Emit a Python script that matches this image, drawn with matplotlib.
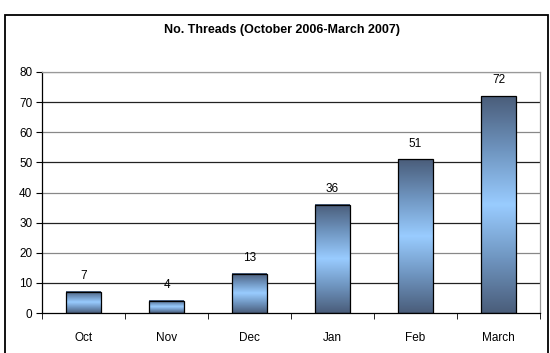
import numpy as np
import matplotlib.pyplot as plt
from matplotlib.colors import LinearSegmentedColormap
from matplotlib.patches import Rectangle

plt.rcParams['font.family'] = ['Liberation Sans', 'DejaVu Sans']

months = ['Oct', 'Nov', 'Dec', 'Jan', 'Feb', 'March']
threads = [7, 4, 13, 36, 51, 72]
yticks = [0, 10, 20, 30, 40, 50, 60, 70, 80]

# dark edge -> light centre -> dark edge, applied top to bottom of each bar
cmap = LinearSegmentedColormap.from_list(
    'bar', ['#4a5d7a', '#6f95c0', '#99ccff', '#6f95c0', '#4a5d7a'])

fig = plt.figure(figsize=(5.5, 3.53), dpi=100)
W, H = 550, 353

# outer chart frame, running off the bottom
fig.add_artist(Rectangle((5 / W, -0.05), 543 / W, (H - 15) / H + 0.05,
                         transform=fig.transFigure, fill=False,
                         edgecolor='black', linewidth=1.3))

ax = fig.add_axes([42 / W, (H - 313) / H, (540 - 42) / W, (313 - 72) / H])
ax.set_xlim(-0.5, len(months) - 0.5)
ax.set_ylim(0, 80)

x = np.arange(len(months))
width = 0.41
grad = np.linspace(0, 1, 256).reshape(-1, 1)
for xi, v in zip(x, threads):
    ax.imshow(grad, cmap=cmap, aspect='auto', interpolation='bilinear',
              extent=(xi - width / 2, xi + width / 2, 0, v), zorder=2)
    ax.add_patch(Rectangle((xi - width / 2, 0), width, v, fill=False,
                           edgecolor='black', linewidth=0.9, zorder=3))
    ax.text(xi, v + 3.2, str(v), ha='center', va='bottom', fontsize=8.5)

# gridlines, alternate shades
for i, t in enumerate(yticks[1:]):
    ax.axhline(t, color='#222222' if i % 2 == 0 else '#888888',
               linewidth=0.9, zorder=1)

ax.set_yticks(yticks)
ax.set_xticks(x)
ax.set_xticklabels(months)
ax.set_xticks(np.arange(-0.5, len(months)), minor=True)
ax.tick_params(axis='x', which='major', length=0, pad=14, labelsize=8.5)
ax.tick_params(axis='x', which='minor', length=4, direction='out', color='black')
ax.tick_params(axis='y', length=4, direction='out', labelsize=8.5, pad=3)

for s in ['top', 'right']:
    ax.spines[s].set_color('#999999')
for s in ['left', 'bottom']:
    ax.spines[s].set_color('black')
for s in ax.spines.values():
    s.set_linewidth(0.9)

fig.text(282 / W, (H - 30) / H, 'No. Threads (October 2006-March 2007)',
         ha='center', va='center', fontsize=9, fontweight='bold')

fig.savefig('out.png', dpi=100)
